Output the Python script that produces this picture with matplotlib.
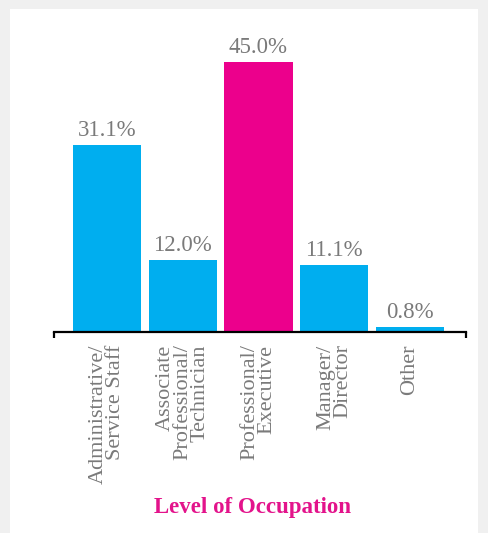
import matplotlib.pyplot as plt
from matplotlib.patches import Rectangle

categories = ['Administrative/\nService Staff', 'Associate\nProfessional/\nTechnician',
              'Professional/\nExecutive', 'Manager/\nDirector', 'Other']
values = [31.1, 12.0, 45.0, 11.1, 0.8]
labels = ['31.1%', '12.0%', '45.0%', '11.1%', '0.8%']
highlight = 2

cyan = '#00aeef'
magenta = '#ec008c'
grey = '#7a7a7a'

plt.rcParams['font.family'] = ['Liberation Serif', 'DejaVu Serif']

W, H = 488, 533
fig = plt.figure(figsize=(W / 100, H / 100), dpi=100, facecolor='#f0f0f0')
fig.patches.append(Rectangle((10 / W, 0), 468 / W, (H - 9) / H, transform=fig.transFigure,
                             facecolor='white', edgecolor='none', zorder=-10))

ax = fig.add_axes([54 / W, 201 / H, 412 / W, 315 / H])
ax.patch.set_alpha(0)
colors = [magenta if i == highlight else cyan for i in range(len(values))]
x = list(range(len(values)))
bars = ax.bar(x, values, width=0.9, color=colors)
for xi, v, lab in zip(x, values, labels):
    ax.text(xi, v + 0.7, lab, ha='center', va='bottom', fontsize=16.5, color=grey)

ax.set_xlim(-0.70, 4.74)
ax.set_ylim(0, 45 * 315 / 270)
ax.set_yticks([])
ax.set_xticks(x)
ax.set_xticklabels(categories, rotation=90, ha='center', va='top', multialignment='right',
                   fontsize=16, color=grey, linespacing=0.86)
ax.tick_params(axis='x', length=0, pad=9)
for s in ['top', 'left', 'right']:
    ax.spines[s].set_visible(False)
ax.spines['bottom'].set_linewidth(1.6)
ax.spines['bottom'].set_color('black')
for xe in [-0.70, 4.74]:
    ax.plot([xe, xe], [0, -1.0], color='black', lw=1.6, clip_on=False, solid_capstyle='butt')

fig.text(252 / W, 1 - 508 / H, 'Level of Occupation', ha='center', va='center',
         fontsize=16.5, fontweight='bold', color='#e3138b')

fig.savefig('out.png', dpi=100, facecolor=fig.get_facecolor())
